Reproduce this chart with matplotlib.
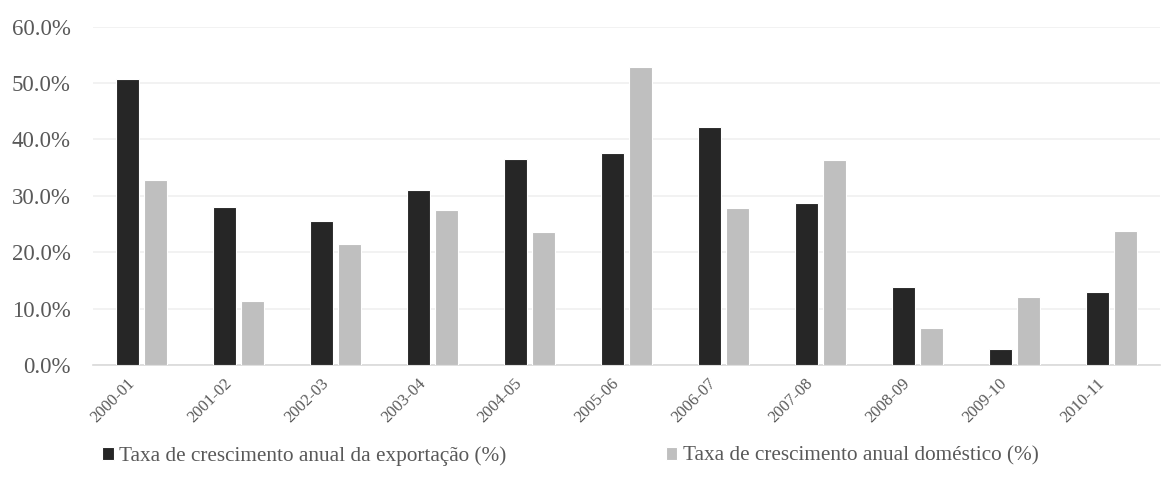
import matplotlib
matplotlib.use("Agg")
import matplotlib.pyplot as plt
import matplotlib.transforms as mtransforms
import numpy as np
from matplotlib.ticker import FuncFormatter, MultipleLocator

periods = ["2000-01", "2001-02", "2002-03", "2003-04", "2004-05", "2005-06",
           "2006-07", "2007-08", "2008-09", "2009-10", "2010-11"]
export_growth = [50.7, 28.0, 25.5, 31.1, 36.5, 37.6, 42.3, 28.7, 13.9, 2.9, 12.9]
domestic_growth = [32.8, 11.4, 21.5, 27.5, 23.6, 52.8, 27.9, 36.4, 6.5, 12.1, 23.7]
series_labels = ["Taxa de crescimento anual da exportação (%)",
                 "Taxa de crescimento anual doméstico (%)"]

text_color = "#595959"
plt.rcParams["font.family"] = ["Liberation Serif", "DejaVu Serif"]

fig = plt.figure(figsize=(11.69, 4.95), dpi=100)
ax = fig.add_axes([0.0796, 0.2626, 0.9124, 0.6834])

x = np.arange(len(periods))
w = 0.235
off = 0.144
b1 = ax.bar(x - off, export_growth, width=w, color="#262626",
            edgecolor="white", linewidth=0.8, label=series_labels[0], zorder=3)
b2 = ax.bar(x + off, domestic_growth, width=w, color="#bfbfbf",
            edgecolor="white", linewidth=0.8, label=series_labels[1], zorder=3)

ax.set_xlim(-0.5, len(periods) - 0.5)
ax.set_ylim(0, 60)
ax.yaxis.set_major_locator(MultipleLocator(10))
ax.yaxis.set_major_formatter(FuncFormatter(lambda v, p: f"{v:.1f}%"))
ax.grid(axis="y", color="#f0f0f0", linewidth=1.2, zorder=0)
ax.set_axisbelow(True)

for side in ("top", "right", "left"):
    ax.spines[side].set_visible(False)
ax.spines["bottom"].set_color("#d9d9d9")
ax.spines["bottom"].set_linewidth(1.2)

ax.tick_params(axis="y", length=0, pad=16, labelsize=16.5, labelcolor=text_color)
ax.tick_params(axis="x", length=0, pad=6, labelsize=12, labelcolor=text_color)
ax.set_xticks(x)
ax.set_xticklabels(periods, rotation=45, ha="right", rotation_mode="anchor")

# shift the slanted category labels a little to the left
shift = mtransforms.ScaledTranslation(-15 / 100, -2 / 100, fig.dpi_scale_trans)
for lbl in ax.get_xticklabels():
    lbl.set_transform(lbl.get_transform() + shift)

fig.legend(handles=[b1, b2], labels=series_labels, loc="lower left",
           bbox_to_anchor=(0.071, 0.02), ncol=2, frameon=False,
           fontsize=15.3, labelcolor=text_color, handlelength=0.55,
           handleheight=0.55, handletextpad=0.25, columnspacing=7.5)

fig.savefig("out.png", dpi=100, facecolor="white")
